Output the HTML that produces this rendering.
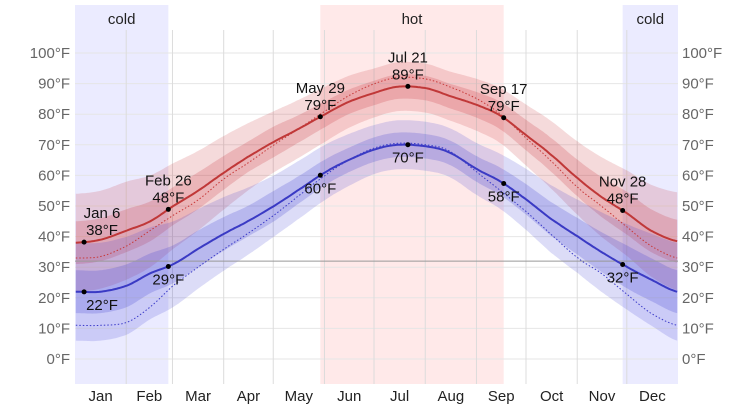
<!DOCTYPE html>
<html><head><meta charset="utf-8"><style>
html,body{margin:0;padding:0;background:#fff;}
svg{display:block;font-family:"Liberation Sans",sans-serif;}
</style></head><body>
<svg id="chart" width="753" height="407" viewBox="0 0 753 407"></svg>
<script>
const days=[0,15,31,45,59,74,90,104,120,134,151,165,181,195,212,226,243,257,273,287,304,318,334,348,364];
const highAvg=[38,39,42,45,50,55,61,66,71,75,80,84,87,89,88.5,86,83,79.5,73,67,59,53,47.5,42,38.5];
const lowAvg=[22,22,24,28,31,36,41,45,50,55,61,65,68.5,70,69.5,67.5,62,58,52,46,40,35,30,26,22];
const highFeel=[33,33.5,37,42,47,52,59,64,70,75,81,86,90,92,91.5,89,85,80,72,65,56,50,43,37,33];
const lowFeel=[11,11,12,17,24,30,36,41,47,53,60,65,69,70.5,70,68,61,55,48,41,33,28,21,15,11];
const outerSpread=[16,16,16,15,14,13,12,11,10,9.5,9,8.5,8,8,8,8,8.5,9,10,11,12,13,14,15,16];
const innerSpread=[7,7,7,6.5,6.2,6,5.5,5,5,4.5,4.2,4,4,4,4,4,4.2,4.5,5,5.5,6,6.5,7,7,7];
const yTicks=[0,10,20,30,40,50,60,70,80,90,100];
const months=["Jan","Feb","Mar","Apr","May","Jun","Jul","Aug","Sep","Oct","Nov","Dec"];
const monthStarts=[0,31,59,90,120,151,181,212,243,273,304,334,365];
const annotations=[
 {day:5,series:"high",label:"Jan 6",val:"38°F",pos:"above"},
 {day:56,series:"high",label:"Feb 26",val:"48°F",pos:"above"},
 {day:148,series:"high",label:"May 29",val:"79°F",pos:"above"},
 {day:201,series:"high",label:"Jul 21",val:"89°F",pos:"above"},
 {day:259,series:"high",label:"Sep 17",val:"79°F",pos:"above"},
 {day:331,series:"high",label:"Nov 28",val:"48°F",pos:"above"},
 {day:5,series:"low",label:"",val:"22°F",pos:"below"},
 {day:56,series:"low",label:"",val:"29°F",pos:"below"},
 {day:148,series:"low",label:"",val:"60°F",pos:"below"},
 {day:201,series:"low",label:"",val:"70°F",pos:"below"},
 {day:259,series:"low",label:"",val:"58°F",pos:"below"},
 {day:331,series:"low",label:"",val:"32°F",pos:"below"}
];
const seasons=[{name:"cold",from:0,to:56.5,color:"#ebebff"},{name:"hot",from:148.5,to:259.5,color:"#ffe9e9"},{name:"cold",from:331.5,to:365,color:"#ebebff"}];

const X0=75,X1=678,Y0=359,PX=3.06,FS=15;
const x=d=>X0+d*(X1-X0)/365;
const y=v=>Y0-v*PX;
const NS="http://www.w3.org/2000/svg";
const svg=document.getElementById('chart');
function mk(t,a,p){const e=document.createElementNS(NS,t);for(const k in a)e.setAttribute(k,a[k]);(p||svg).appendChild(e);return e;}
function interp(arr,d){
 for(let i=0;i<days.length-1;i++){if(d<=days[i+1]){
  const t=(d-days[i])/(days[i+1]-days[i]);
  const p0=arr[Math.max(i-1,0)],p1=arr[i],p2=arr[i+1],p3=arr[Math.min(i+2,arr.length-1)];
  const t2=t*t,t3=t2*t;
  return 0.5*((2*p1)+(-p0+p2)*t+(2*p0-5*p1+4*p2-p3)*t2+(-p0+3*p1-3*p2+p3)*t3);}}
 return arr[arr.length-1];}
function curve(fn){const pts=[];for(let d=0;d<=364;d+=1)pts.push([x(d+0.5),y(fn(d))]);return pts;}
function linePath(pts){return pts.map((p,i)=>(i?'L':'M')+p[0].toFixed(1)+','+p[1].toFixed(1)).join('');}
function bandPath(a,b){return linePath(a)+b.slice().reverse().map(p=>'L'+p[0].toFixed(1)+','+p[1].toFixed(1)).join('')+'Z';}

seasons.forEach(s=>{
 const r=mk('rect',{x:x(s.from),y:5,width:x(s.to)-x(s.from),height:379,fill:s.color});
 
 
 const t=mk('text',{x:(x(s.from)+x(s.to))/2,y:24,'text-anchor':'middle','font-size':FS,fill:'#222'});
 t.textContent=s.name;
 
 
});
yTicks.forEach(v=>{
 const g=mk('line',{x1:X0,x2:X1,y1:y(v),y2:y(v),stroke:'#e6e6e6','stroke-width':1});
 
 
 const l=mk('text',{x:70,y:y(v)+5,'text-anchor':'end','font-size':FS,fill:'#666'});l.textContent=v+'°F';
 
 
 const r=mk('text',{x:682,y:y(v)+5,'text-anchor':'start','font-size':FS,fill:'#666'});r.textContent=v+'°F';
 
 
});
monthStarts.slice(1,12).forEach((d,i)=>{
 const g=mk('line',{x1:x(d),x2:x(d),y1:30,y2:384,stroke:'#dcdcdc','stroke-width':1});
 
 
});
months.forEach((m,i)=>{
 const t=mk('text',{x:(x(monthStarts[i])+x(monthStarts[i+1]))/2,y:401,'text-anchor':'middle','font-size':FS,fill:'#222'});
 t.textContent=m;
 
 
});
function bands(arr,color,name){
 const o=mk('path',{d:bandPath(curve(d=>interp(arr,d)+interp(outerSpread,d)),curve(d=>interp(arr,d)-interp(outerSpread,d))),fill:color,'fill-opacity':0.18});
 
 
 const n=mk('path',{d:bandPath(curve(d=>interp(arr,d)+interp(innerSpread,d)),curve(d=>interp(arr,d)-interp(innerSpread,d))),fill:color,'fill-opacity':0.22});
 
 
}
bands(highAvg,'#c8323a','high');
bands(lowAvg,'#3c3cd0','low');
const fz=mk('line',{x1:X0,x2:X1,y1:y(32),y2:y(32),stroke:'#999','stroke-width':1});


const hf=mk('path',{d:linePath(curve(d=>interp(highFeel,d))),fill:'none',stroke:'#c83a3a','stroke-width':1,'stroke-dasharray':'1.5,2'});


const lf=mk('path',{d:linePath(curve(d=>interp(lowFeel,d))),fill:'none',stroke:'#3b3bc8','stroke-width':1,'stroke-dasharray':'1.5,2'});


const hl=mk('path',{d:linePath(curve(d=>interp(highAvg,d))),fill:'none',stroke:'#c03838','stroke-width':2});


const ll=mk('path',{d:linePath(curve(d=>interp(lowAvg,d))),fill:'none',stroke:'#3a3ac4','stroke-width':2});


annotations.forEach(a=>{
 const arr=a.series==='high'?highAvg:lowAvg;
 const cx=x(a.day+0.5),cy=y(interp(arr,a.day));
 const c=mk('circle',{cx:cx,cy:cy,r:2.5,fill:'#000'});
 
 
 const tx=Math.max(cx,X0+27);
 if(a.pos==='above'){
  const t1=mk('text',{x:tx,y:cy-24,'text-anchor':'middle','font-size':FS,fill:'#111'});t1.textContent=a.label;
  
  
  const t2=mk('text',{x:tx,y:cy-7,'text-anchor':'middle','font-size':FS,fill:'#111'});t2.textContent=a.val;
  
  
 }else{
  const t2=mk('text',{x:tx,y:cy+18,'text-anchor':'middle','font-size':FS,fill:'#111'});t2.textContent=a.val;
  
  
 }
});
</script>
</body></html>
